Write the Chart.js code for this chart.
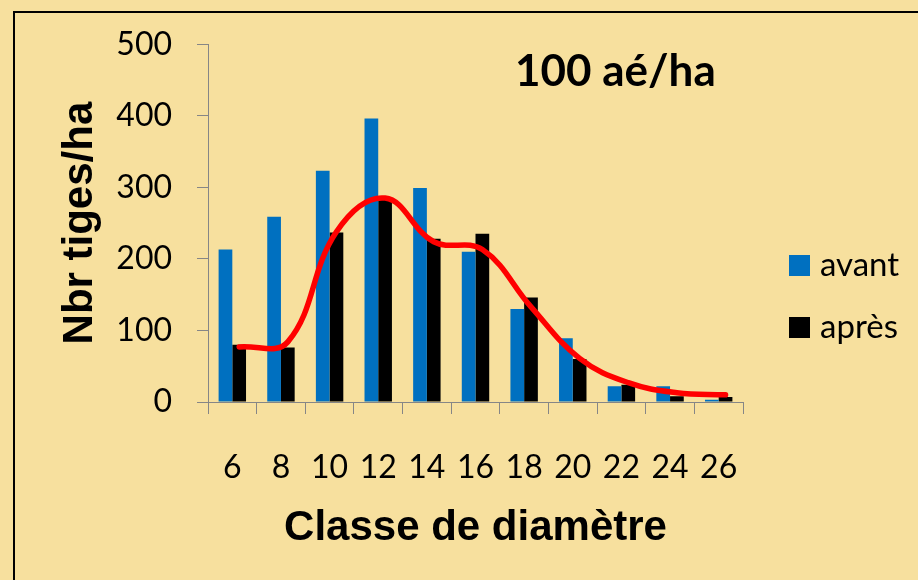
<!DOCTYPE html>
<html>
<head>
<meta charset="utf-8">
<script src="https://cdn.jsdelivr.net/npm/chart.js@4/dist/chart.umd.min.js"></script>
<style>
  html, body { margin: 0; padding: 0; background: #F7E09E; }
  #wrap { width: 918px; height: 580px; }
</style>
</head>
<body>
<div id="wrap"><canvas id="c" width="918" height="580"></canvas></div>
<script>
// Diameter classes (cm)
const classes = [6, 8, 10, 12, 14, 16, 18, 20, 22, 24, 26];
// Stems per hectare before thinning
const avant = [213, 259, 323, 396, 299, 210, 130, 89, 22, 22, 3];
// Stems per hectare after thinning
const apres = [80, 76, 237, 283, 228, 235, 146, 60, 24, 8, 7];
// Smoothed trend of the post-thinning distribution, one value per class
const trend = [77, 84, 238, 285, 224, 213, 133, 61, 27, 13, 10];
const yTicks = [0, 100, 200, 300, 400, 500];

const BG = '#F7E09E';
const BLUE = '#0070C0';
const BLACK = '#000000';
const RED = '#FF0000';
const AXIS = '#868686';

const classStep = 2;
const catPct = 0.564;
// the trend line runs through the centres of the "après" bars
const trendShift = classStep * catPct / 4;

const bgPlugin = {
  id: 'panel',
  beforeDraw(chart) {
    const ctx = chart.ctx;
    ctx.save();
    ctx.fillStyle = BG;
    ctx.fillRect(0, 0, chart.width, chart.height);
    ctx.strokeStyle = '#000';
    ctx.lineWidth = 2;
    ctx.strokeRect(14, 12, chart.width + 20, chart.height + 20);
    ctx.restore();
  }
};

const legendPlugin = {
  id: 'sideLegend',
  afterDraw(chart) {
    const ctx = chart.ctx;
    ctx.save();
    ctx.font = '33px Lato';
    ctx.textBaseline = 'alphabetic';
    ctx.textAlign = 'left';
    const items = [chart.data.datasets[0], chart.data.datasets[1]];
    const rows = [{ box: 255, base: 276 }, { box: 317, base: 338 }];
    items.forEach((ds, i) => {
      ctx.fillStyle = ds.backgroundColor;
      ctx.fillRect(789, rows[i].box, 21, 21);
      ctx.fillStyle = '#000';
      ctx.fillText(ds.label, 820, rows[i].base);
    });
    // panel heading
    ctx.font = 'bold 44px Lato';
    ctx.fillText('100 aé/ha', 515, 86);
    ctx.restore();
  }
};

new Chart(document.getElementById('c'), {
  type: 'bar',
  data: {
    labels: classes,
    datasets: [
      { label: 'avant', data: avant, backgroundColor: BLUE, order: 1,
        categoryPercentage: catPct, barPercentage: 1 },
      { label: 'après', data: apres, backgroundColor: BLACK, order: 1,
        categoryPercentage: catPct, barPercentage: 1 },
      { type: 'line', label: 'tendance', order: 0,
        data: trend.map((v, i) => ({ x: classes[i] + trendShift, y: v })),
        borderColor: RED, borderWidth: 5.5, tension: 0.4,
        borderCapStyle: 'round', borderJoinStyle: 'round',
        pointRadius: 0, fill: false }
    ]
  },
  options: {
    responsive: false,
    animation: false,
    devicePixelRatio: 1,
    layout: { padding: { left: 0, right: 175, top: 44, bottom: 0 } },
    plugins: { legend: { display: false }, tooltip: { enabled: false }, title: { display: false } },
    scales: {
      x: {
        type: 'linear',
        offset: false,
        min: classes[0] - classStep / 2,
        max: classes[classes.length - 1] + classStep / 2,
        afterBuildTicks(s) { s.ticks = classes.map(v => ({ value: v })); },
        grid: { offset: true, drawOnChartArea: false, drawTicks: true, tickLength: 12, color: AXIS },
        border: { color: AXIS, width: 1 },
        ticks: { color: '#000', padding: 34, maxRotation: 0, autoSkip: false,
                 font: { family: 'Lato', size: 32 } },
        title: { display: true, text: 'Classe de diamètre', color: '#000',
                 font: { family: 'Liberation Sans', size: 42, weight: 'bold' },
                 padding: { top: 0, bottom: 26 } },
        afterFit(s) { s.height = 178; }
      },
      y: {
        min: 0, max: 500,
        afterBuildTicks(s) { s.ticks = yTicks.map(v => ({ value: v })); },
        grid: { drawOnChartArea: false, drawTicks: true, tickLength: 11, color: AXIS },
        border: { color: AXIS, width: 1 },
        ticks: { color: '#000', padding: 25, font: { family: 'Lato', size: 32 } },
        title: { display: true, text: 'Nbr tiges/ha', color: '#000',
                 font: { family: 'Liberation Sans', size: 42, weight: 'bold' },
                 padding: { top: 55, bottom: 0 } },
        afterFit(s) { s.width = 208; }
      }
    }
  },
  plugins: [bgPlugin, legendPlugin]
});
</script>
</body>
</html>
